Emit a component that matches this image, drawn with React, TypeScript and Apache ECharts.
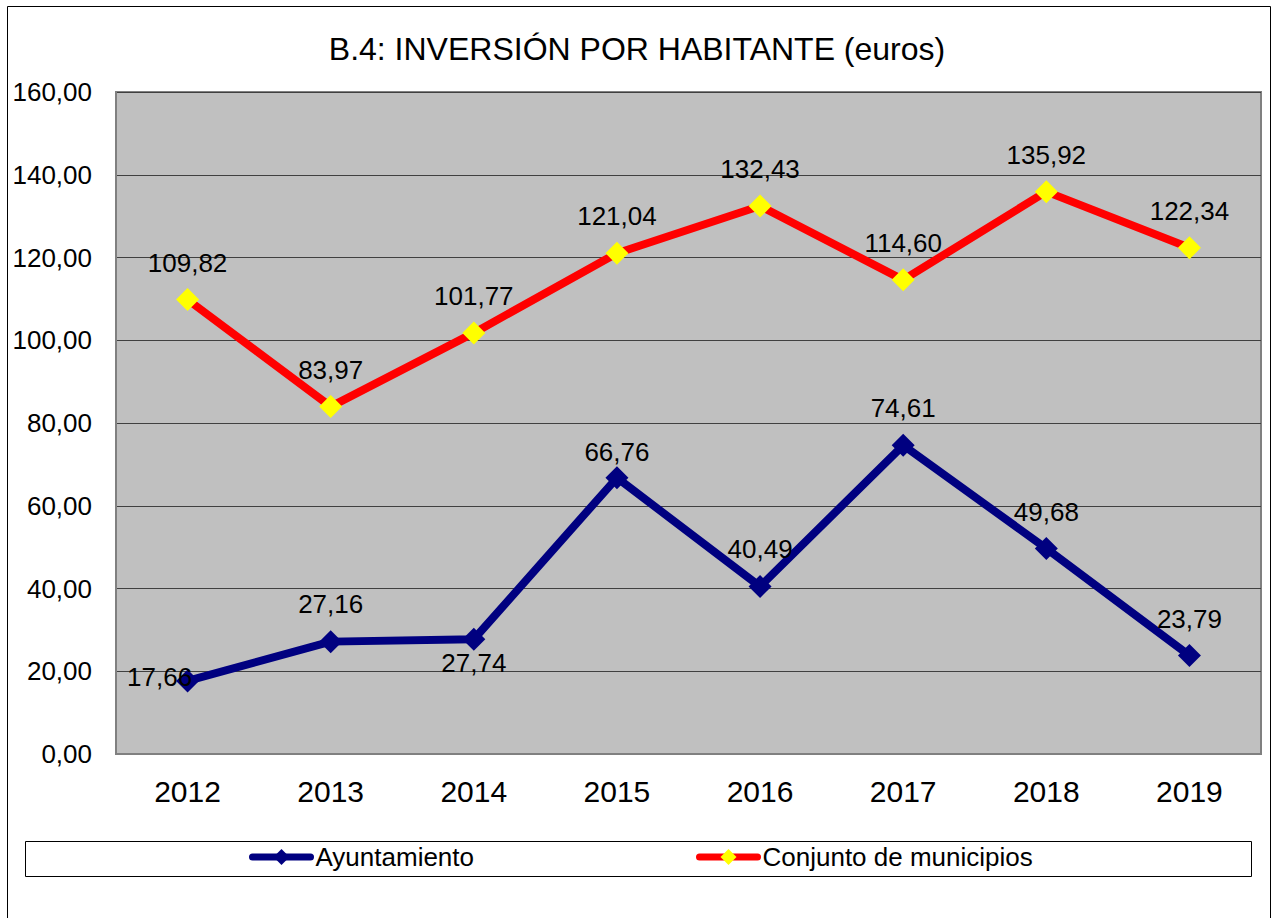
import React, { useEffect, useRef } from "react";
import * as echarts from "echarts";

const years = ["2012", "2013", "2014", "2015", "2016", "2017", "2018", "2019"];
const ayuntamiento = [17.66, 27.16, 27.74, 66.76, 40.49, 74.61, 49.68, 23.79];
const conjunto = [109.82, 83.97, 101.77, 121.04, 132.43, 114.6, 135.92, 122.34];
const yTicks = [0, 20, 40, 60, 80, 100, 120, 140, 160];

const fmt = (v: number) => v.toFixed(2).replace(".", ",");

// label offsets (relative to the point) for the Ayuntamiento series
const ayOffsets: [number, number][] = [
  [-28, -4], [0, -38], [0, 24], [0, -26], [0, -37], [0, -37], [0, -36], [0, -37],
];

export default function App() {
  const ref = useRef<HTMLDivElement>(null);
  useEffect(() => {
    const chart = echarts.init(ref.current!, undefined, { renderer: "svg" });
    const font = "'Liberation Sans', Arial, sans-serif";
    const legendCommon = {
      top: 844,
      itemWidth: 58,
      itemHeight: 20,
      padding: 0,
      lineStyle: { width: 7, cap: "round" },
      textStyle: { fontSize: 26, color: "#000", fontFamily: font },
    };
    chart.setOption({
      animation: false,
      backgroundColor: "#ffffff",
      textStyle: { fontFamily: font },
      title: {
        text: "B.4: INVERSIÓN POR HABITANTE (euros)",
        left: "center",
        top: 28,
        textStyle: { fontSize: 32, fontWeight: "normal", color: "#000", fontFamily: font },
      },
      grid: {
        left: 116,
        right: 13,
        top: 92,
        bottom: 164,
        show: true,
        backgroundColor: "#c0c0c0",
        borderColor: "#808080",
        borderWidth: 2,
      },
      xAxis: {
        type: "category",
        data: years,
        boundaryGap: true,
        axisLine: { show: true, lineStyle: { color: "#808080", width: 2 } },
        axisTick: { show: false },
        axisLabel: { fontSize: 30, color: "#000", margin: 22, fontFamily: font },
      },
      yAxis: {
        type: "value",
        min: 0,
        max: 160,
        interval: 20,
        axisLine: { show: true, lineStyle: { color: "#808080", width: 2 } },
        axisTick: { show: false },
        axisLabel: {
          fontSize: 26,
          color: "#000",
          margin: 24,
          fontFamily: font,
          formatter: (v: number) => (yTicks.includes(v) ? fmt(v) : ""),
        },
        splitLine: { show: true, lineStyle: { color: "#404040", width: 1 } },
      },
      legend: [
        { ...legendCommon, data: ["Ayuntamiento"], left: 249 },
        { ...legendCommon, data: ["Conjunto de municipios"], left: 696 },
      ],
      graphic: [
        {
          type: "rect",
          shape: { x: 7.5, y: 6.5, width: 1263, height: 930 },
          style: { fill: "none", stroke: "#000", lineWidth: 1 },
          silent: true,
          z: 100,
        },
        {
          type: "rect",
          shape: { x: 25.5, y: 841.5, width: 1226, height: 35 },
          style: { fill: "none", stroke: "#000", lineWidth: 1 },
          silent: true,
          z: -1,
        },
      ],
      series: [
        {
          name: "Ayuntamiento",
          type: "line",
          data: ayuntamiento.map((v, i) => ({
            value: v,
            label: { offset: ayOffsets[i] },
          })),
          symbol: "diamond",
          symbolSize: 23,
          lineStyle: { color: "#000080", width: 8 },
          itemStyle: { color: "#000080", borderWidth: 0 },
          label: {
            show: true,
            position: "inside",
            fontSize: 26,
            color: "#000",
            fontFamily: font,
            formatter: (p: any) => fmt(p.value),
          },
          z: 3,
        },
        {
          name: "Conjunto de municipios",
          type: "line",
          data: conjunto,
          symbol: "diamond",
          symbolSize: 23,
          lineStyle: { color: "#ff0000", width: 8 },
          itemStyle: { color: "#ffff00", borderWidth: 0 },
          label: {
            show: true,
            position: "inside",
            offset: [0, -37],
            fontSize: 26,
            color: "#000",
            fontFamily: font,
            formatter: (p: any) => fmt(p.value),
          },
          z: 3,
        },
      ],
    });
    return () => chart.dispose();
  }, []);
  return (
    <div
      ref={ref}
      style={{ position: "fixed", left: 0, top: 0, width: 1274, height: 918 }}
    />
  );
}
